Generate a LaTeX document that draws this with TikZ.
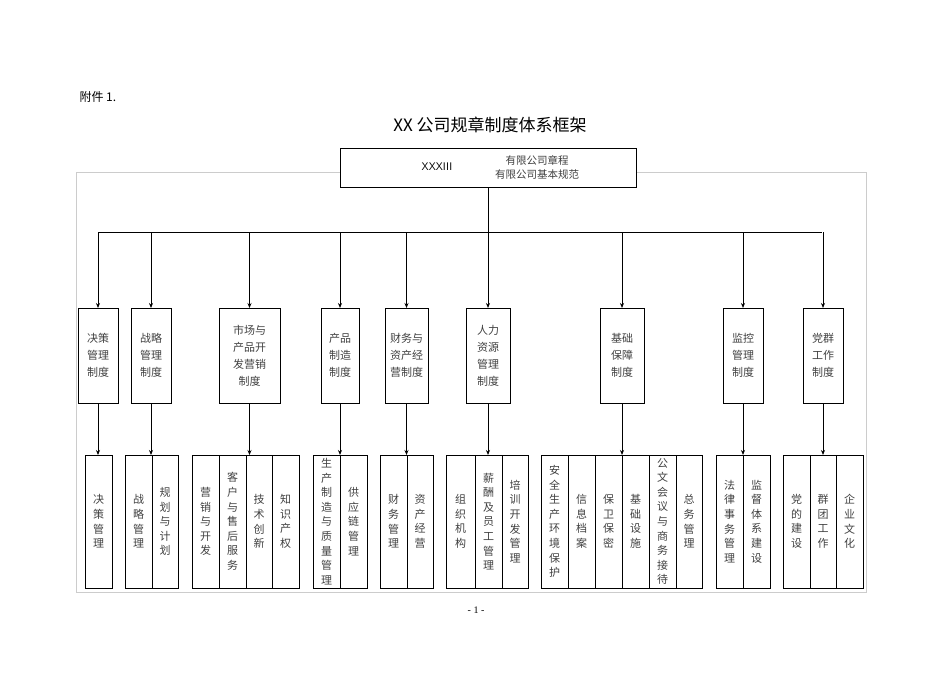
\documentclass[tikz,border=0pt]{standalone}
\usepackage{fontspec}
\setmainfont{Liberation Serif}
\newfontfamily\cjk{Noto Sans CJK SC}
\usetikzlibrary{arrows.meta}
\tikzset{
  box/.style={draw,line width=0.9pt,inner sep=0pt},
  vt/.style={font=\cjk\fontsize{11}{14.6}\selectfont,align=center,text=black!75,inner sep=0pt},
  mt/.style={font=\cjk\fontsize{11}{17}\selectfont,align=center,text=black!75,inner sep=0pt},
  arr/.style={line width=0.9pt,-{Stealth[length=5pt,width=4pt]}},
  ln/.style={line width=0.9pt}
}
\newcommand{\midbox}[5]{% name, x1, x2, text
  \draw[box] (#2,308) rectangle (#3,403);
  \node[mt] (#1) at ({(#2+#3)/2},355.5) {#4};
  \coordinate (#1t) at ({(#2+#3)/2},308);
  \coordinate (#1b) at ({(#2+#3)/2},403);
  \coordinate (#1h) at ({(#2+#3)/2},232);
  \coordinate (#1d) at ({(#2+#3)/2},455);
  #5}
\newcommand{\bcol}[4]{%
  \draw[box] (#2,455) rectangle (#3,588);
  \node[vt] (#1) at ({(#2+#3)/2},521.5) {#4};}
\begin{document}
\begin{tikzpicture}[x=1pt,y=-1pt]
\useasboundingbox (0,0) rectangle (950,672);
\node[font=\cjk\fontsize{12}{14}\selectfont,anchor=west] (att) at (76,97) {附件 1.};
\node[font=\cjk\fontsize{17}{20}\selectfont] (title) at (490,125) {XX 公司规章制度体系框架};
\node[font=\fontsize{10}{12}\selectfont] (pg) at (476,610) {- 1 -};
\draw[black!20,line width=0.8pt] (76,172) rectangle (866,592);
\draw[box,fill=white] (340,148) rectangle (636,187);
\node[font=\sffamily\fontsize{11}{13}\selectfont] (xx) at (437,167) {XXXIII};
\node[vt,font=\cjk\fontsize{10.5}{14}\selectfont] (top) at (537,167) {有限公司章程\\有限公司基本规范};
\coordinate (tb) at (488,187);
\coordinate (hb) at (488,232);
\draw[ln] (tb) -- (hb);
\coordinate (hl) at (98,232);
\coordinate (hr) at (822,232);
\draw[ln] (hl) -- (hr);
\midbox{m1}{78}{118}{决策\\管理\\制度}{}
\midbox{m2}{131}{171}{战略\\管理\\制度}{}
\midbox{m3}{219}{280}{市场与\\产品开\\发营销\\制度}{}
\midbox{m4}{321}{359}{产品\\制造\\制度}{}
\midbox{m5}{385}{428}{财务与\\资产经\\营制度}{}
\midbox{m6}{466}{510}{人力\\资源\\管理\\制度}{}
\midbox{m7}{600}{644}{基础\\保障\\制度}{}
\midbox{m8}{723}{763}{监控\\管理\\制度}{}
\midbox{m9}{803}{843}{党群\\工作\\制度}{}
\foreach \i in {1,...,9}{
  \draw[arr] (m\i h) -- (m\i t);
  \draw[arr] (m\i b) -- (m\i d);
}
\bcol{b1}{85}{112}{决\\策\\管\\理}
\bcol{b2}{125}{152}{战\\略\\管\\理}
\bcol{b3}{152}{178}{规\\划\\与\\计\\划}
\bcol{b4}{192}{219}{营\\销\\与\\开\\发}
\bcol{b5}{219}{246}{客\\户\\与\\售\\后\\服\\务}
\bcol{b6}{246}{272}{技\\术\\创\\新}
\bcol{b7}{272}{299}{知\\识\\产\\权}
\bcol{b8}{313}{340}{生\\产\\制\\造\\与\\质\\量\\管\\理}
\bcol{b9}{340}{367}{供\\应\\链\\管\\理}
\bcol{b10}{380}{407}{财\\务\\管\\理}
\bcol{b11}{407}{433}{资\\产\\经\\营}
\bcol{b12}{446}{475}{组\\织\\机\\构}
\bcol{b13}{475}{502}{薪\\酬\\及\\员\\工\\管\\理}
\bcol{b14}{502}{528}{培\\训\\开\\发\\管\\理}
\bcol{b15}{541}{568}{安\\全\\生\\产\\环\\境\\保\\护}
\bcol{b16}{568}{595}{信\\息\\档\\案}
\bcol{b17}{595}{622}{保\\卫\\保\\密}
\bcol{b18}{622}{649}{基\\础\\设\\施}
\bcol{b19}{649}{676}{公\\文\\会\\议\\与\\商\\务\\接\\待}
\bcol{b20}{676}{702}{总\\务\\管\\理}
\bcol{b21}{716}{743}{法\\律\\事\\务\\管\\理}
\bcol{b22}{743}{770}{监\\督\\体\\系\\建\\设}
\bcol{b23}{783}{810}{党\\的\\建\\设}
\bcol{b24}{810}{836}{群\\团\\工\\作}
\bcol{b25}{836}{863}{企\\业\\文\\化}
\end{tikzpicture}
\end{document}
